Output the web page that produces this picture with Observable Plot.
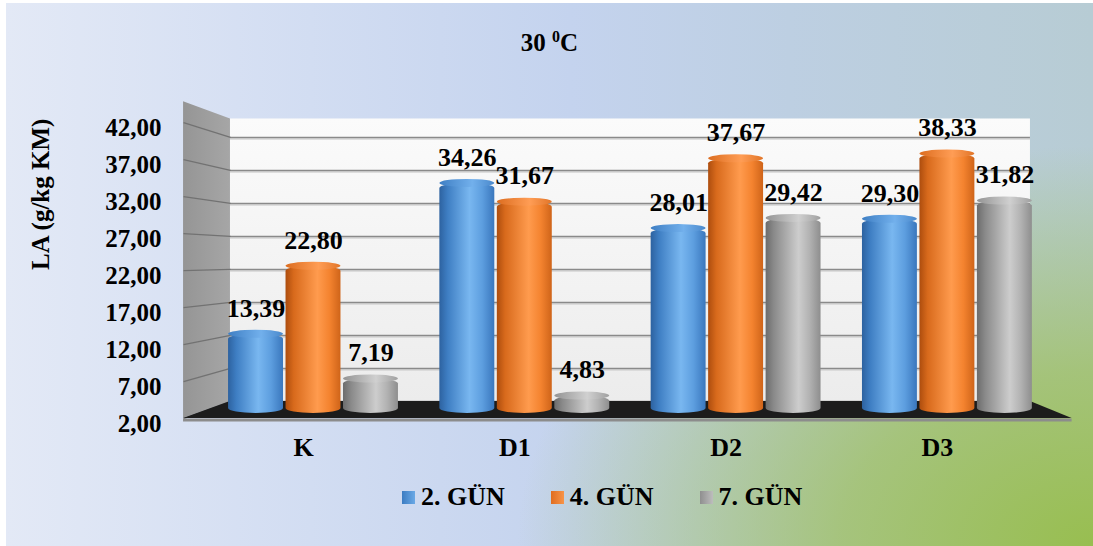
<!DOCTYPE html>
<html>
<head>
<meta charset="utf-8">
<script src="https://cdn.jsdelivr.net/npm/d3@7"></script>
<script src="https://cdn.jsdelivr.net/npm/@observablehq/plot@0.6"></script>
<style>
  html, body { margin: 0; padding: 0; background: #fff; }
  #chart {
    position: absolute; left: 6px; top: 3px; width: 1087px; height: 543px; overflow: hidden;
    font-family: "Liberation Serif", "Times New Roman", serif;
    background:
      radial-gradient(ellipse 720px 500px at 100% 100%, rgba(152,190,80,1) 0%, rgba(158,192,92,0.75) 35%, rgba(165,195,120,0) 80%),
      linear-gradient(90deg, #e3e9f6 0%, #d2ddf2 28%, #c4d3ee 52%, #bdcfe2 72%, #b7ccd4 100%);
  }
  #title {
    position: absolute; top: 26px; left: 0; width: 100%; text-align: center;
    font-weight: bold; font-size: 25px; line-height: 28px; color: #000;
  }
  #title sup { font-size: 16px; vertical-align: 0; position: relative; top: -9px; }
  #plot { position: absolute; left: 0; top: 82px; }
  #legend {
    position: absolute; top: 479px; left: 396px; height: 30px; display: flex; gap: 46px;
    font-weight: bold; font-size: 26px; line-height: 30px; color: #000;
  }
  #legend .item { display: flex; align-items: center; gap: 6px; white-space: nowrap; }
  #legend .sw { width: 13px; height: 13px; display: inline-block; }
</style>
</head>
<body>
<div id="chart">
  <div id="title">30 <sup>0</sup>C</div>
  <div id="plot"></div>
  <div id="legend"></div>
</div>
<script>
// LA (g/kg KM) at 30 °C, by treatment and day of ensiling
const categories = ["K", "D1", "D2", "D3"];
const series = ["2. GÜN", "4. GÜN", "7. GÜN"];
const day2 = [13.39, 34.26, 28.01, 29.30];
const day4 = [22.80, 31.67, 37.67, 38.33];
const day7 = [7.19, 4.83, 29.42, 31.82];
const yTicks = [2, 7, 12, 17, 22, 27, 32, 37, 42];
const yLabel = "LA (g/kg KM)";

const seriesValues = [day2, day4, day7];
const rows = series.flatMap((s, si) =>
  categories.map((c, ci) => ({ category: c, ci, series: s, si, value: seriesValues[si][ci] }))
);

const fmt = v => v.toFixed(2).replace(".", ",");

// Pseudo-3D box: the back wall and the front edge are drawn with their own
// vertical mapping in data units, so the side wall and floor get depth.
const wallTop = 44.8;
const backY = v => 4.08 + 0.9135 * (v - 2);
const frontY = v => 1.72 + 1.024 * (v - 2);
const frontLeft = -0.615, backLeft = -0.393, backRight = 3.393, floorRight = 3.59;

// bar layout within each category group
const barStep = 0.272, barHalf = 0.13;
const bx1 = d => d.ci + (d.si - 1) * barStep - barHalf;
const bx2 = d => d.ci + (d.si - 1) * barStep + barHalf;
const bxc = d => d.ci + (d.si - 1) * barStep;
const barRx = 27.5;

const barMarks = series.flatMap((s, si) => {
  const data = rows.filter(d => d.si === si);
  return [
    Plot.rect(data, { x1: bx1, x2: bx2, y1: () => 2, y2: "value", insetBottom: 3,
      rx: barRx, ry: 5, fill: `url(#body${si})` }),
    Plot.rect(data, { x1: bx1, x2: bx2, y1: "value", y2: "value", insetTop: -4, insetBottom: -4,
      rx: barRx, ry: 4, fill: `url(#top${si})` })
  ];
});

const labelFont = { fontWeight: "bold", fill: "#000" };

const plot = Plot.plot({
  width: 1087,
  height: 390,
  marginLeft: 0, marginRight: 0, marginTop: 42, marginBottom: 59,
  style: { background: "none", fontFamily: "Liberation Serif, Times New Roman, serif", overflow: "visible" },
  x: { type: "linear", domain: [-1.4529, 3.6914], axis: null },
  y: { type: "linear", domain: [2, 42], axis: null },
  marks: [
    // back wall and its gridlines
    Plot.rect([0], { x1: backLeft, x2: backRight, y1: backY(2), y2: backY(wallTop), fill: "url(#backwall)" }),
    Plot.ruleY(yTicks, { y: backY, x1: backLeft, x2: backRight, stroke: "#d4d4d4", strokeWidth: 1.5, dy: 1.5 }),
    Plot.ruleY(yTicks, { y: backY, x1: backLeft, x2: backRight, stroke: "#8a8a8a", strokeWidth: 1.4 }),
    // side wall
    Plot.areaY([{ x: frontLeft, lo: frontY(2), hi: frontY(wallTop) }, { x: backLeft, lo: backY(2), hi: backY(wallTop) }],
      { x: "x", y1: "lo", y2: "hi", fill: "url(#sidewall)" }),
    Plot.link(yTicks, { x1: () => frontLeft, y1: frontY, x2: () => backLeft, y2: backY, stroke: "#727272", strokeWidth: 1.3 }),
    // floor
    Plot.areaX([{ y: backY(2), x1: backLeft, x2: backRight }, { y: frontY(2), x1: frontLeft, x2: floorRight }],
      { y: "y", x1: "x1", x2: "x2", fill: "#1c1c1c" }),
    Plot.ruleY([frontY(2)], { x1: frontLeft, x2: floorRight, stroke: "#8c8c8c", strokeWidth: 3, dy: 1.5 }),
    // cylinders
    ...barMarks,
    // value labels
    Plot.text(rows, { x: bxc, y: "value", text: d => fmt(d.value), dy: -26, fontSize: 26, ...labelFont }),
    // y tick labels
    Plot.text(yTicks, { y: frontY, text: fmt, frameAnchor: "left", dx: 155, dy: 5, textAnchor: "end",
      fontSize: 25, ...labelFont }),
    // category labels
    Plot.text(categories, { x: (d, i) => i, text: d => d, frameAnchor: "bottom", dx: -10, dy: 39,
      fontSize: 26, ...labelFont }),
    // y axis title
    Plot.text([yLabel], { text: d => d, frameAnchor: "left", dx: 34, dy: -2, rotate: -90,
      fontSize: 25, ...labelFont })
  ]
});

d3.select(plot).insert("defs", ":first-child").html(`
  <linearGradient id="backwall" x1="0" y1="0" x2="0" y2="1">
    <stop offset="0" stop-color="#fbfbfb"/><stop offset="1" stop-color="#ececec"/>
  </linearGradient>
  <linearGradient id="sidewall" x1="0" y1="0" x2="1" y2="0">
    <stop offset="0" stop-color="#959595"/><stop offset="1" stop-color="#a6a6a6"/>
  </linearGradient>
  <linearGradient id="body0" x1="0" y1="0" x2="1" y2="0">
    <stop offset="0" stop-color="#2d62a0"/><stop offset="0.15" stop-color="#3e7ec3"/>
    <stop offset="0.55" stop-color="#79b7f0"/><stop offset="0.78" stop-color="#5d9edf"/>
    <stop offset="1" stop-color="#3a77bd"/>
  </linearGradient>
  <linearGradient id="top0" x1="0" y1="0" x2="1" y2="0">
    <stop offset="0" stop-color="#3f7fc4"/><stop offset="0.6" stop-color="#72b0ec"/><stop offset="1" stop-color="#4a89cc"/>
  </linearGradient>
  <linearGradient id="body1" x1="0" y1="0" x2="1" y2="0">
    <stop offset="0" stop-color="#ad4d0e"/><stop offset="0.15" stop-color="#d86a1c"/>
    <stop offset="0.58" stop-color="#ff9b4e"/><stop offset="0.8" stop-color="#f4832f"/>
    <stop offset="1" stop-color="#cf6419"/>
  </linearGradient>
  <linearGradient id="top1" x1="0" y1="0" x2="1" y2="0">
    <stop offset="0" stop-color="#dc6d20"/><stop offset="0.6" stop-color="#ff9d55"/><stop offset="1" stop-color="#e27528"/>
  </linearGradient>
  <linearGradient id="body2" x1="0" y1="0" x2="1" y2="0">
    <stop offset="0" stop-color="#6c6c6c"/><stop offset="0.15" stop-color="#8a8a8a"/>
    <stop offset="0.6" stop-color="#cdcdcd"/><stop offset="0.8" stop-color="#b2b2b2"/>
    <stop offset="1" stop-color="#8e8e8e"/>
  </linearGradient>
  <linearGradient id="top2" x1="0" y1="0" x2="1" y2="0">
    <stop offset="0" stop-color="#949494"/><stop offset="0.6" stop-color="#d0d0d0"/><stop offset="1" stop-color="#a0a0a0"/>
  </linearGradient>
`);

document.getElementById("plot").appendChild(plot);

// legend
const swatches = [
  "linear-gradient(90deg,#3c7cc2,#6aa9e6)",
  "linear-gradient(90deg,#e06d20,#f79449)",
  "linear-gradient(90deg,#8f8f8f,#bdbdbd)"
];
const legend = d3.select("#legend");
series.forEach((s, i) => {
  const item = legend.append("span").attr("class", "item");
  item.append("i").attr("class", "sw").style("background", swatches[i]);
  item.append("span").text(s);
});
</script>
</body>
</html>
